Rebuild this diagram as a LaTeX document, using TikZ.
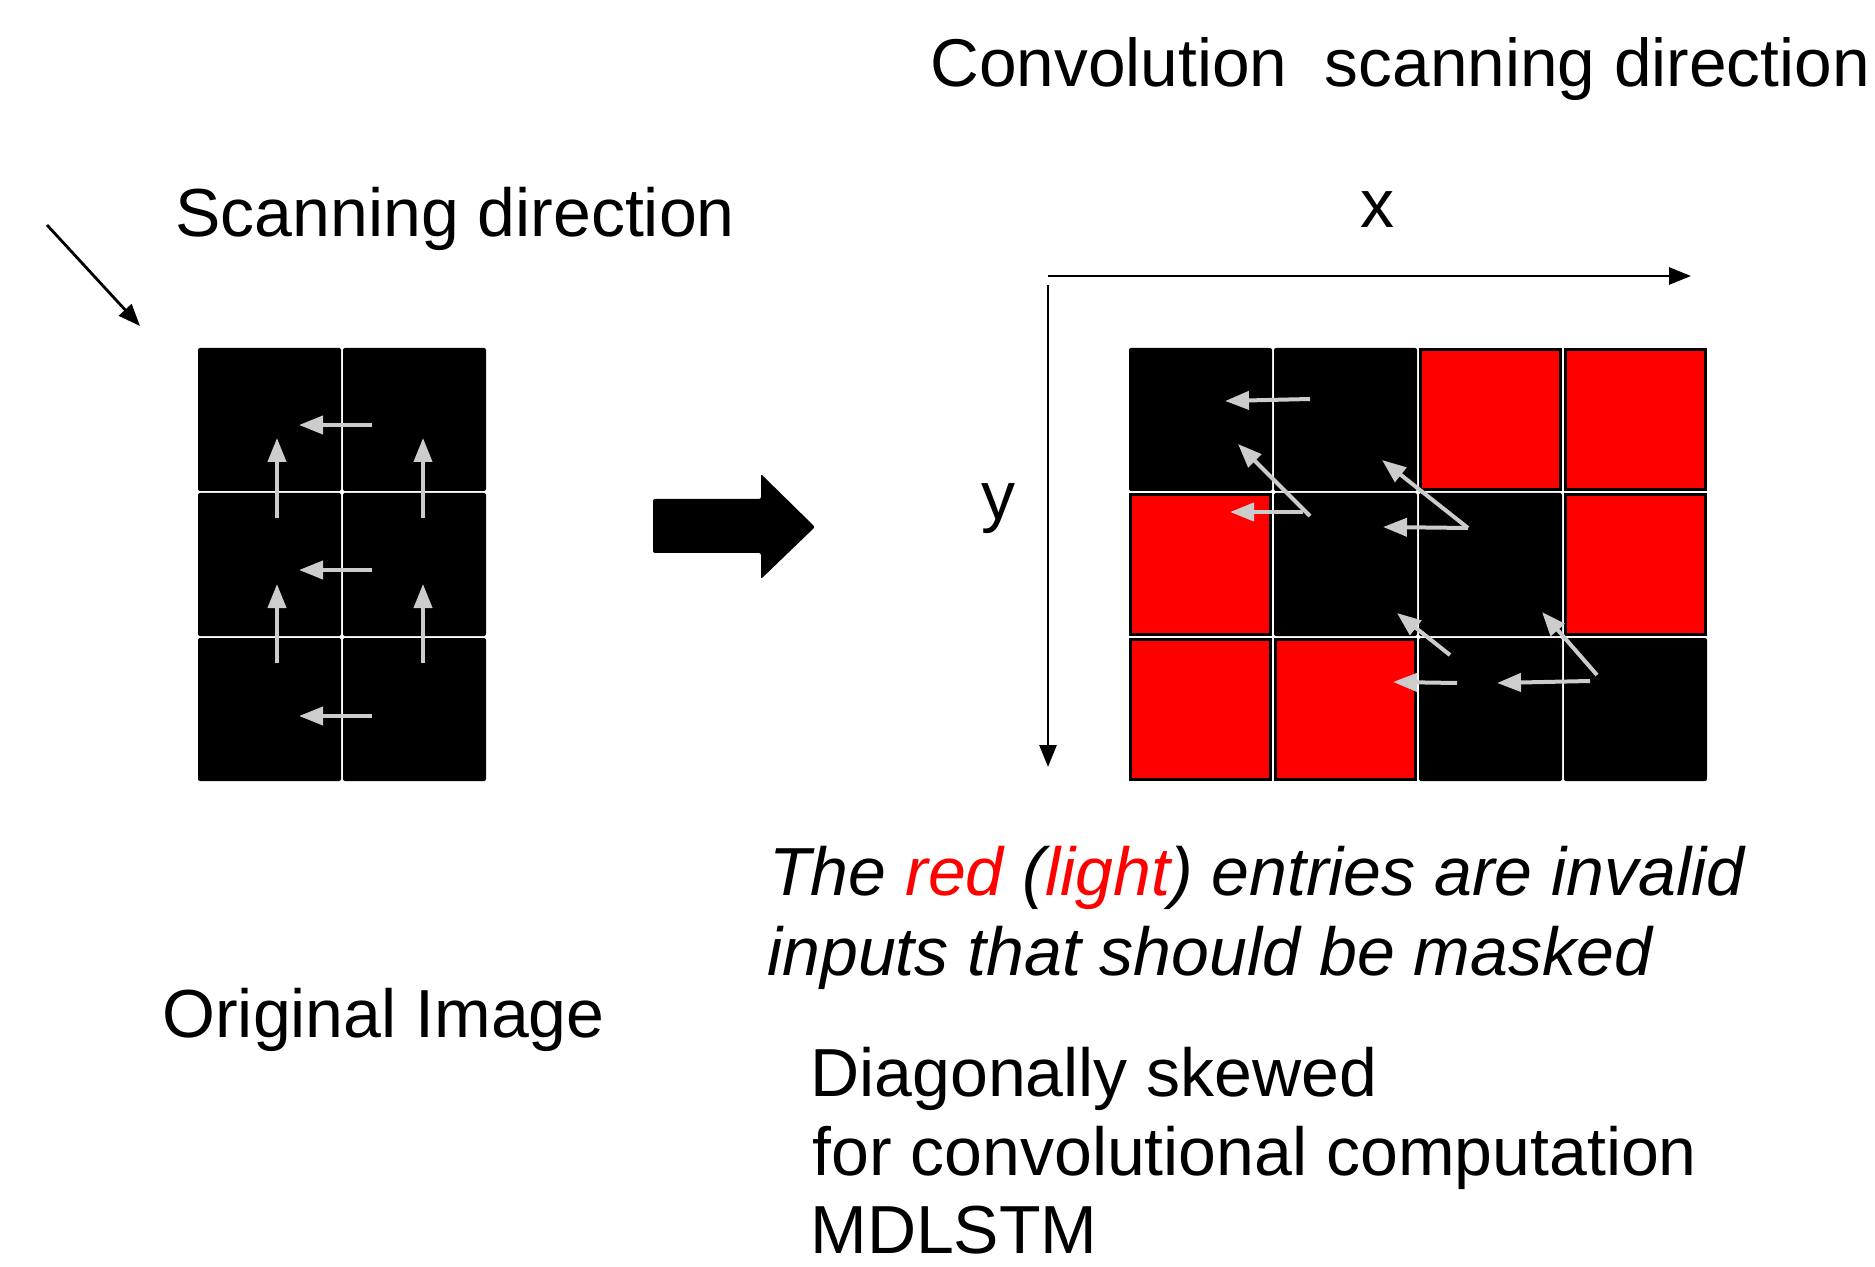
\documentclass[tikz,border=0pt]{standalone}
\usepackage{fontspec}
\setmainfont{Liberation Sans}
\usetikzlibrary{arrows.meta}
\definecolor{arrowgray}{HTML}{CCCCCC}
\definecolor{maskred}{HTML}{FF0000}
\tikzset{
	cell/.style={fill=black, minimum size=71.5pt, inner sep=0pt, rounded corners=1pt},
	redcell/.style={fill=maskred, draw=black, line width=1.5pt, minimum size=70pt, inner sep=0pt},
	flow/.style={draw=arrowgray, line width=2pt, -{Triangle[length=12pt,width=9pt]}},
	axis/.style={line width=1.4pt, -{Triangle[length=11pt,width=8.5pt]}},
	lbl/.style={anchor=base west, inner sep=0pt, font=\fontsize{34}{40}\selectfont},
}
\begin{document}
\begin{tikzpicture}[x=0.5pt,y=-0.5pt]
		\useasboundingbox (0,0) rectangle (1875,1267);
		\node[lbl, font=\fontsize{33.8}{40}\selectfont] (conv) at (930,87) {Convolution~~scanning direction};
		\node[lbl] (scan) at (175,237) {Scanning direction};
		\node[lbl, anchor=base] (xl) at (1377,228) {x};
		\node[lbl, anchor=base] (yl) at (998,520) {y};
		\node[lbl, font=\fontsize{34}{40}\selectfont\itshape] (note1) at (769,895) {The \textcolor{maskred}{red} (\textcolor{maskred}{light}) entries are invalid};
		\node[lbl, font=\fontsize{34}{40}\selectfont\itshape] (note2) at (767,975) {inputs that should be masked};
		\node[lbl] (orig) at (162,1037) {Original Image};
		\node[lbl] (skew1) at (810,1096) {Diagonally skewed};
		\node[lbl] (skew2) at (812,1175) {for convolutional computation};
		\node[lbl] (skew3) at (810,1253) {MDLSTM};
		\node[cell] (L11) at (269.5,419.5) {};
		\node[cell] (L12) at (414.5,419.5) {};
		\node[cell] (L21) at (269.5,564.5) {};
		\node[cell] (L22) at (414.5,564.5) {};
		\node[cell] (L31) at (269.5,709.5) {};
		\node[cell] (L32) at (414.5,709.5) {};
		\node[cell] (R11) at (1200.5,419.5) {};
		\node[cell] (R12) at (1345.5,419.5) {};
		\node[redcell] (R13) at (1490.5,419.5) {};
		\node[redcell] (R14) at (1635.5,419.5) {};
		\node[redcell] (R21) at (1200.5,564.5) {};
		\node[cell] (R22) at (1345.5,564.5) {};
		\node[cell] (R23) at (1490.5,564.5) {};
		\node[redcell] (R24) at (1635.5,564.5) {};
		\node[redcell] (R31) at (1200.5,709.5) {};
		\node[redcell] (R32) at (1345.5,709.5) {};
		\node[cell] (R33) at (1490.5,709.5) {};
		\node[cell] (R34) at (1635.5,709.5) {};
		\draw[flow] (372,425) -- (299,425);
		\draw[flow] (372,570) -- (299,570);
		\draw[flow] (372,716) -- (299,716);
		\draw[flow] (277,518) -- (277,438);
		\draw[flow] (423,518) -- (423,438);
		\draw[flow] (277,663) -- (277,584);
		\draw[flow] (423,663) -- (423,584);
		\draw[flow] (1310,399) -- (1225,401);
		\draw[flow] (1310,516) -- (1238,444);
		\draw[flow] (1303,512) -- (1230,512);
		\draw[flow] (1468,528) -- (1382,460);
		\draw[flow] (1468,528) -- (1383,527);
		\draw[flow] (1450,655) -- (1397,613);
		\draw[flow] (1457,683) -- (1393,682);
		\draw[flow] (1597,675) -- (1542,612);
		\draw[flow] (1590,681) -- (1497,683);
		\coordinate (s0) at (47,225);
		\coordinate (s1) at (140,326);
		\draw[axis] (s0) -- (s1);
		\coordinate (xstart) at (1048,276);
		\coordinate (xend) at (1691,276);
		\coordinate (ystart) at (1048,285);
		\coordinate (yend) at (1048,767);
		\draw[axis] (xstart) -- (xend);
		\draw[axis] (ystart) -- (yend);
		\fill[rounded corners=1pt] (653,499) -- (761,499) -- (761,474) -- (815,527) -- (761,579) -- (761,553) -- (653,553) -- cycle;
	\end{tikzpicture}
\end{document}
